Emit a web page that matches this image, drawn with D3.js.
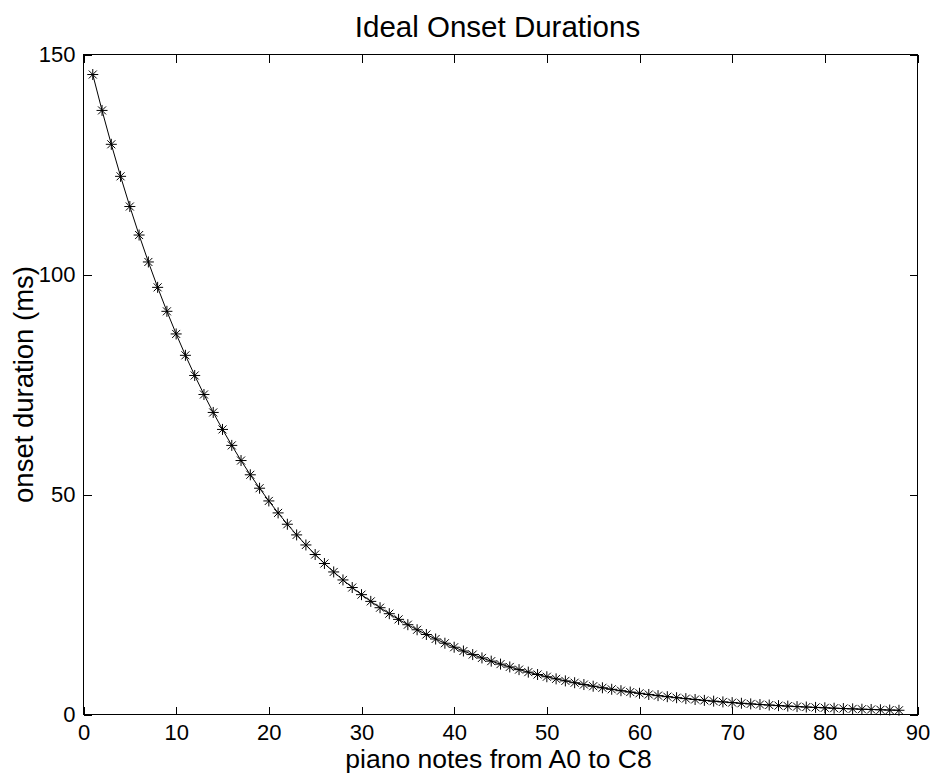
<!DOCTYPE html>
<html lang="en">
<head>
    <meta charset="UTF-8">
    <title>Ideal Onset Durations</title>
    <script src="https://cdn.jsdelivr.net/npm/d3@7"></script>
    <style>
        body {
            margin: 0;
            background: #ffffff;
        }

        #graphDiv {
            width: 933px;
            height: 774px;
        }

        text {
            font-family: "Liberation Sans", Arial, sans-serif;
            fill: #000000;
        }
    </style>
</head>
<body>
<div id="graphDiv"></div>

<script>
    // piano key index 1..88 (A0 .. C8)
    var notes = d3.range(1, 89);

    // onset duration in ms
    var durations = [
        145.45, 137.29, 129.59, 122.31, 115.45, 108.97, 102.85, 97.08, 91.63, 86.49, 81.63, 77.05,
        72.73, 68.65, 64.79, 61.16, 57.72, 54.48, 51.43, 48.54, 45.82, 43.24, 40.82, 38.53,
        36.36, 34.32, 32.40, 30.58, 28.86, 27.24, 25.71, 24.27, 22.91, 21.62, 20.41, 19.26,
        18.18, 17.16, 16.20, 15.29, 14.43, 13.62, 12.86, 12.13, 11.45, 10.81, 10.20, 9.63,
        9.09, 8.58, 8.10, 7.64, 7.22, 6.81, 6.43, 6.07, 5.73, 5.41, 5.10, 4.82,
        4.55, 4.29, 4.05, 3.82, 3.61, 3.41, 3.21, 3.03, 2.86, 2.70, 2.55, 2.41,
        2.27, 2.15, 2.02, 1.91, 1.80, 1.70, 1.61, 1.52, 1.43, 1.35, 1.28, 1.20,
        1.14, 1.07, 1.01, 0.96
    ];

    var xTicks = [0, 10, 20, 30, 40, 50, 60, 70, 80, 90];
    var yTicks = [0, 50, 100, 150];

    var titleText = "Ideal Onset Durations";
    var xLabelText = "piano notes from A0 to C8";
    var yLabelText = "onset duration (ms)";

    function drawPlot() {
        var selector = "#graphDiv";
        var w0 = 933;
        var h0 = 774;

        var left = 83.5, right = 917.5, top = 54.5, bottom = 714.5;
        var tickLen = 8;

        var svg = d3.select(selector).append("svg")
            .attr("width", w0)
            .attr("height", h0);

        var x = d3.scaleLinear().domain([0, 90]).range([left, right]);
        var y = d3.scaleLinear().domain([0, 150]).range([bottom, top]);

        var data = notes.map(function (n, i) {
            return {x: n, y: durations[i]};
        });

        // box + inward ticks on all four sides (matlab style)
        var bottomAxis = d3.axisBottom(x).tickValues(xTicks).tickSize(-tickLen).tickPadding(10).tickFormat(d3.format("d"));
        var topAxis = d3.axisTop(x).tickValues(xTicks).tickSize(-tickLen).tickFormat("");
        var leftAxis = d3.axisLeft(y).tickValues(yTicks).tickSize(-tickLen).tickPadding(8).tickFormat(d3.format("d"));
        var rightAxis = d3.axisRight(y).tickValues(yTicks).tickSize(-tickLen).tickFormat("");

        function styleAxis(g) {
            g.select(".domain").remove();
            g.selectAll(".tick line").attr("stroke", "#000").attr("shape-rendering", "crispEdges");
            g.selectAll(".tick text")
                .style("font-family", "'Liberation Sans', Arial, sans-serif")
                .style("font-size", "22px")
                .attr("fill", "#000");
        }

        svg.append("g").attr("transform", "translate(0," + bottom + ")").call(bottomAxis).call(styleAxis);
        svg.append("g").attr("transform", "translate(0," + top + ")").call(topAxis).call(styleAxis);
        svg.append("g").attr("transform", "translate(" + left + ",0)").call(leftAxis).call(styleAxis);
        svg.append("g").attr("transform", "translate(" + right + ",0)").call(rightAxis).call(styleAxis);

        svg.append("rect")
            .attr("x", left)
            .attr("y", top)
            .attr("width", right - left)
            .attr("height", bottom - top)
            .attr("fill", "none")
            .attr("stroke", "#000")
            .attr("stroke-width", 1)
            .attr("shape-rendering", "crispEdges");

        // curve
        var line = d3.line()
            .x(function (d) { return x(d.x); })
            .y(function (d) { return y(d.y); });

        svg.append("path")
            .datum(data)
            .attr("d", line)
            .attr("fill", "none")
            .attr("stroke", "#000")
            .attr("stroke-width", 1);

        // '*' markers = plus + cross
        var a = 5.5, b = 4;
        var star = "M" + (-a) + ",0H" + a + "M0," + (-a) + "V" + a +
            "M" + (-b) + "," + (-b) + "L" + b + "," + b +
            "M" + (-b) + "," + b + "L" + b + "," + (-b);

        svg.selectAll("path.marker")
            .data(data).enter().append("path")
            .attr("class", "marker")
            .attr("d", star)
            .attr("transform", function (d) {
                return "translate(" + x(d.x) + "," + y(d.y) + ")";
            })
            .attr("fill", "none")
            .attr("stroke", "#000")
            .attr("stroke-width", 1);

        // labels
        svg.append("text")
            .attr("x", (left + right) / 2 - 3)
            .attr("y", 37)
            .attr("text-anchor", "middle")
            .style("font-size", "29.5px")
            .text(titleText);

        svg.append("text")
            .attr("x", (left + right) / 2 - 2)
            .attr("y", 768)
            .attr("text-anchor", "middle")
            .style("font-size", "26.5px")
            .text(xLabelText);

        svg.append("text")
            .attr("transform", "translate(33," + ((top + bottom) / 2) + ") rotate(-90)")
            .attr("text-anchor", "middle")
            .style("font-size", "27.5px")
            .text(yLabelText);
    }

    drawPlot();
</script>
</body>
</html>
